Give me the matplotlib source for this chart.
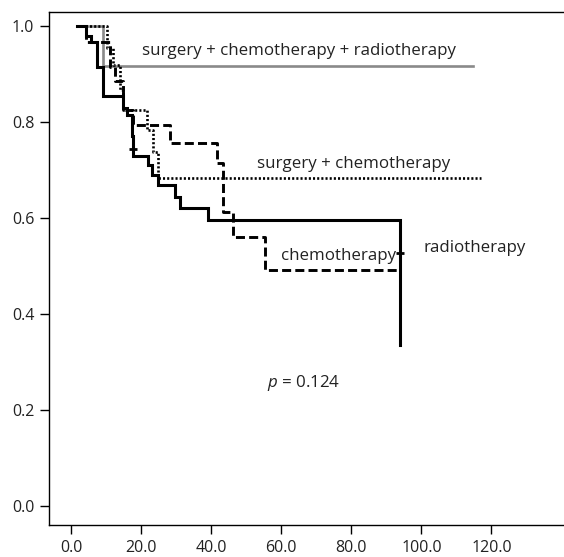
import matplotlib
matplotlib.use("Agg")
import matplotlib.pyplot as plt

plt.rcParams['font.family'] = ['Open Sans', 'DejaVu Sans']
plt.rcParams['lines.scale_dashes'] = False
plt.rcParams['mathtext.fontset'] = 'custom'
plt.rcParams['mathtext.it'] = 'Open Sans:italic'
plt.rcParams['mathtext.rm'] = 'Open Sans'

# Kaplan-Meier step data (event times, survival level after each time)
solid_times = [1.6, 4.3, 5.6, 7.3, 9.1, 14.9, 15.9, 17.3, 17.6, 22.0, 23.0, 24.9, 29.7, 31.1, 39.1, 93.9]
solid_levels = [1.0, 0.979, 0.967, 0.915, 0.853, 0.829, 0.815, 0.77, 0.73, 0.71, 0.69, 0.669, 0.644, 0.62, 0.596, 0.335]
solid_end = 93.9

dashed_times = [1.6, 4.3, 11.1, 12.6, 14.9, 17.7, 28.2, 41.6, 43.5, 46.1, 55.3]
dashed_levels = [1.0, 0.967, 0.915, 0.885, 0.825, 0.794, 0.757, 0.715, 0.613, 0.561, 0.492]
dashed_end = 93.9

dotted_times = [1.6, 10.4, 12.1, 14.0, 14.9, 21.6, 23.5, 24.9]
dotted_levels = [1.0, 0.953, 0.919, 0.867, 0.825, 0.783, 0.738, 0.683]
dotted_end = 117.0

grey_times = [1.6, 9.1]
grey_levels = [1.0, 0.917]
grey_end = 114.6

# censor marks on the solid curve
censor_x = [93.9, 17.6]
censor_y = [0.527, 0.743]

xticks = [0, 20, 40, 60, 80, 100, 120]
yticks = [0.0, 0.2, 0.4, 0.6, 0.8, 1.0]


def km_path(times, levels, end):
    xs, ys = [], []
    for i, (t, s) in enumerate(zip(times, levels)):
        if i > 0:
            xs.append(t)
            ys.append(levels[i - 1])
        xs.append(t)
        ys.append(s)
    xs.append(end)
    ys.append(levels[-1])
    return xs, ys


fig = plt.figure(figsize=(5.64, 5.57), dpi=100)
ax = fig.add_axes([49 / 564, 32 / 557, 1 - 49 / 564, (525 - 12) / 557])

x, y = km_path(grey_times, grey_levels, grey_end)
ax.plot(x, y, color='#8a8a8a', lw=1.9, solid_joinstyle='miter')
x, y = km_path(dotted_times, dotted_levels, dotted_end)
ax.plot(x, y, color='black', lw=1.9, linestyle=(0, (1.5, 1.5)))
x, y = km_path(dashed_times, dashed_levels, dashed_end)
ax.plot(x, y, color='black', lw=2.1, linestyle=(0, (6.5, 3.0)))
x, y = km_path(solid_times, solid_levels, solid_end)
ax.plot(x, y, color='black', lw=2.2, solid_joinstyle='miter')
ax.plot(censor_x, censor_y, linestyle='none', marker='_', color='black', ms=6, mew=2)

ax.set_xlim(-6.28, 140.7)
ax.set_ylim(-0.0396, 1.029)
ax.set_xticks(xticks)
ax.set_xticklabels([f"{v:.1f}" for v in xticks])
ax.set_yticks(yticks)
ax.set_yticklabels([f"{v:.1f}" for v in yticks])
ax.tick_params(direction='out', length=6.5, width=1, labelsize=11.5, colors='black', labelcolor='#222222', pad=4)
for sp in ['left', 'bottom', 'top']:
    ax.spines[sp].set_linewidth(1.0)
ax.spines['right'].set_visible(False)

fs = 12.2
ax.text(20.4, 0.9396, 'surgery + chemotherapy + radiotherapy', fontsize=fs, ha='left', va='baseline', color='#222222')
ax.text(53.2, 0.7035, 'surgery + chemotherapy', fontsize=fs, ha='left', va='baseline', color='#222222')
ax.text(59.9, 0.5125, 'chemotherapy', fontsize=fs, ha='left', va='baseline', color='#222222')
ax.text(100.5, 0.53, 'radiotherapy', fontsize=fs, ha='left', va='baseline', color='#222222')
ax.text(55.8, 0.2486, '$\\it{p}$ = 0.124', fontsize=fs, ha='left', va='baseline', color='#222222')

fig.savefig('out.png', dpi=100)
